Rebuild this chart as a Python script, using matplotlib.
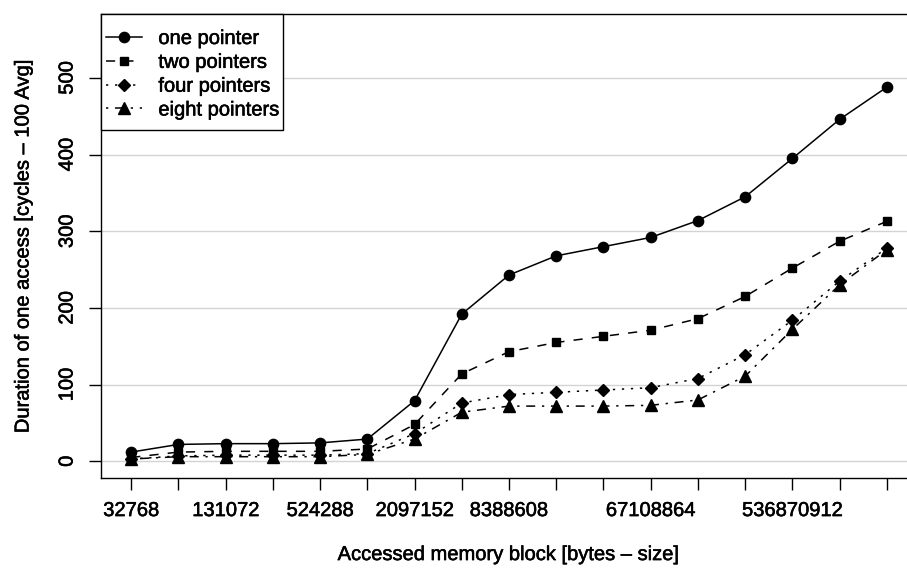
import matplotlib
matplotlib.use('Agg')
import matplotlib.pyplot as plt
import matplotlib.patches as mpatches
import matplotlib.patheffects as pe

plt.rcParams['font.family'] = ['Liberation Sans', 'DejaVu Sans']

# block sizes in bytes (2^15 .. 2^31)
sizes = [32768, 65536, 131072, 262144, 524288, 1048576, 2097152, 4194304,
         8388608, 16777216, 33554432, 67108864, 134217728, 268435456,
         536870912, 1073741824, 2147483648]
# R only printed the labels that fit
size_labels = ['32768', '', '131072', '', '524288', '', '2097152', '',
               '8388608', '', '', '67108864', '', '', '536870912', '', '']

one_ptr = [12, 22, 23, 23, 24, 29, 79, 192, 243, 268, 280, 292, 314, 345, 395, 446, 488]
two_ptr = [5, 12, 13, 13, 13, 16, 48, 114, 143, 155, 163, 171, 186, 215, 252, 287, 313]
four_ptr = [3, 7, 8, 8, 8, 10, 36, 76, 87, 90, 93, 96, 108, 139, 184, 235, 278]
eight_ptr = [3, 6, 6, 6, 6, 9, 29, 64, 72, 72, 72, 73, 80, 111, 172, 230, 276]

series_names = ['one pointer', 'two pointers', 'four pointers', 'eight pointers']

fs = 14.5
W, H = 907, 570
fig = plt.figure(figsize=(W / 100, H / 100), dpi=100)
ax = fig.add_axes([101 / W, 92 / H, 816 / W, 464 / H])

ax.set_xscale('log', base=2)
ax.set_xlim(2 ** (15 - 0.64), 2 ** (31 + 0.64))
ax.set_ylim(-21.8, 583.5)

ax.plot(sizes, one_ptr, color='black', lw=1.1, ls='-', marker='o', ms=7.4,
        label=series_names[0], zorder=3)
ax.plot(sizes, two_ptr, color='black', lw=1.1, ls=(0, (6, 6)), marker='s', ms=6.0,
        label=series_names[1], zorder=3)
ax.plot(sizes, four_ptr, color='black', lw=1.1, ls=(0, (1.5, 4.4)), marker='D', ms=6.0,
        label=series_names[2], zorder=3)
ax.plot(sizes, eight_ptr, color='black', lw=1.1, ls=(0, (1.5, 4.4, 5.9, 4.4)), marker='^', ms=8,
        label=series_names[3], zorder=3)

yt = [0, 100, 200, 300, 400, 500]
for y in yt:
    ax.axhline(y, color='#d3d3d3', lw=1.0, zorder=1)

ax.set_yticks(yt)
ax.set_yticklabels([str(v) for v in yt], rotation=90, va='center', fontsize=fs)
ax.set_xticks(sizes)
ax.set_xticklabels(size_labels, fontsize=fs)
ax.xaxis.set_minor_locator(matplotlib.ticker.NullLocator())
ax.tick_params(axis='both', direction='out', length=8.6, width=1.0, color='black')
ax.tick_params(axis='x', pad=8)
ax.tick_params(axis='y', pad=9)

for s in ax.spines.values():
    s.set_color('black')
    s.set_linewidth(1.0)

ax.set_xlabel('Accessed memory block [bytes \u2013 size]', fontsize=fs, labelpad=18)
ax.set_ylabel('Duration of one access [cycles \u2013 100 Avg]', fontsize=fs, labelpad=18)

# legend box like R's (more room above/below than at the sides)
box = mpatches.Rectangle((101 / W, 1 - 130 / H), 182 / W, 116 / H, transform=fig.transFigure,
                         facecolor='white', edgecolor='black', lw=1.0, zorder=4)
ax.add_patch(box)
box.set_clip_on(False)

leg = ax.legend(loc='upper left', bbox_to_anchor=(106 / W, 1 - 29 / H),
                bbox_transform=fig.transFigure, fontsize=fs, frameon=False,
                numpoints=1, handlelength=1.8, handletextpad=0.8,
                labelspacing=0.24, borderpad=0, borderaxespad=0)
leg.set_zorder(5)

# slightly heavier text, like the R png device
for t in fig.findobj(matplotlib.text.Text):
    t.set_path_effects([pe.withStroke(linewidth=0.4, foreground='black')])

plt.savefig('out.png', dpi=100)
